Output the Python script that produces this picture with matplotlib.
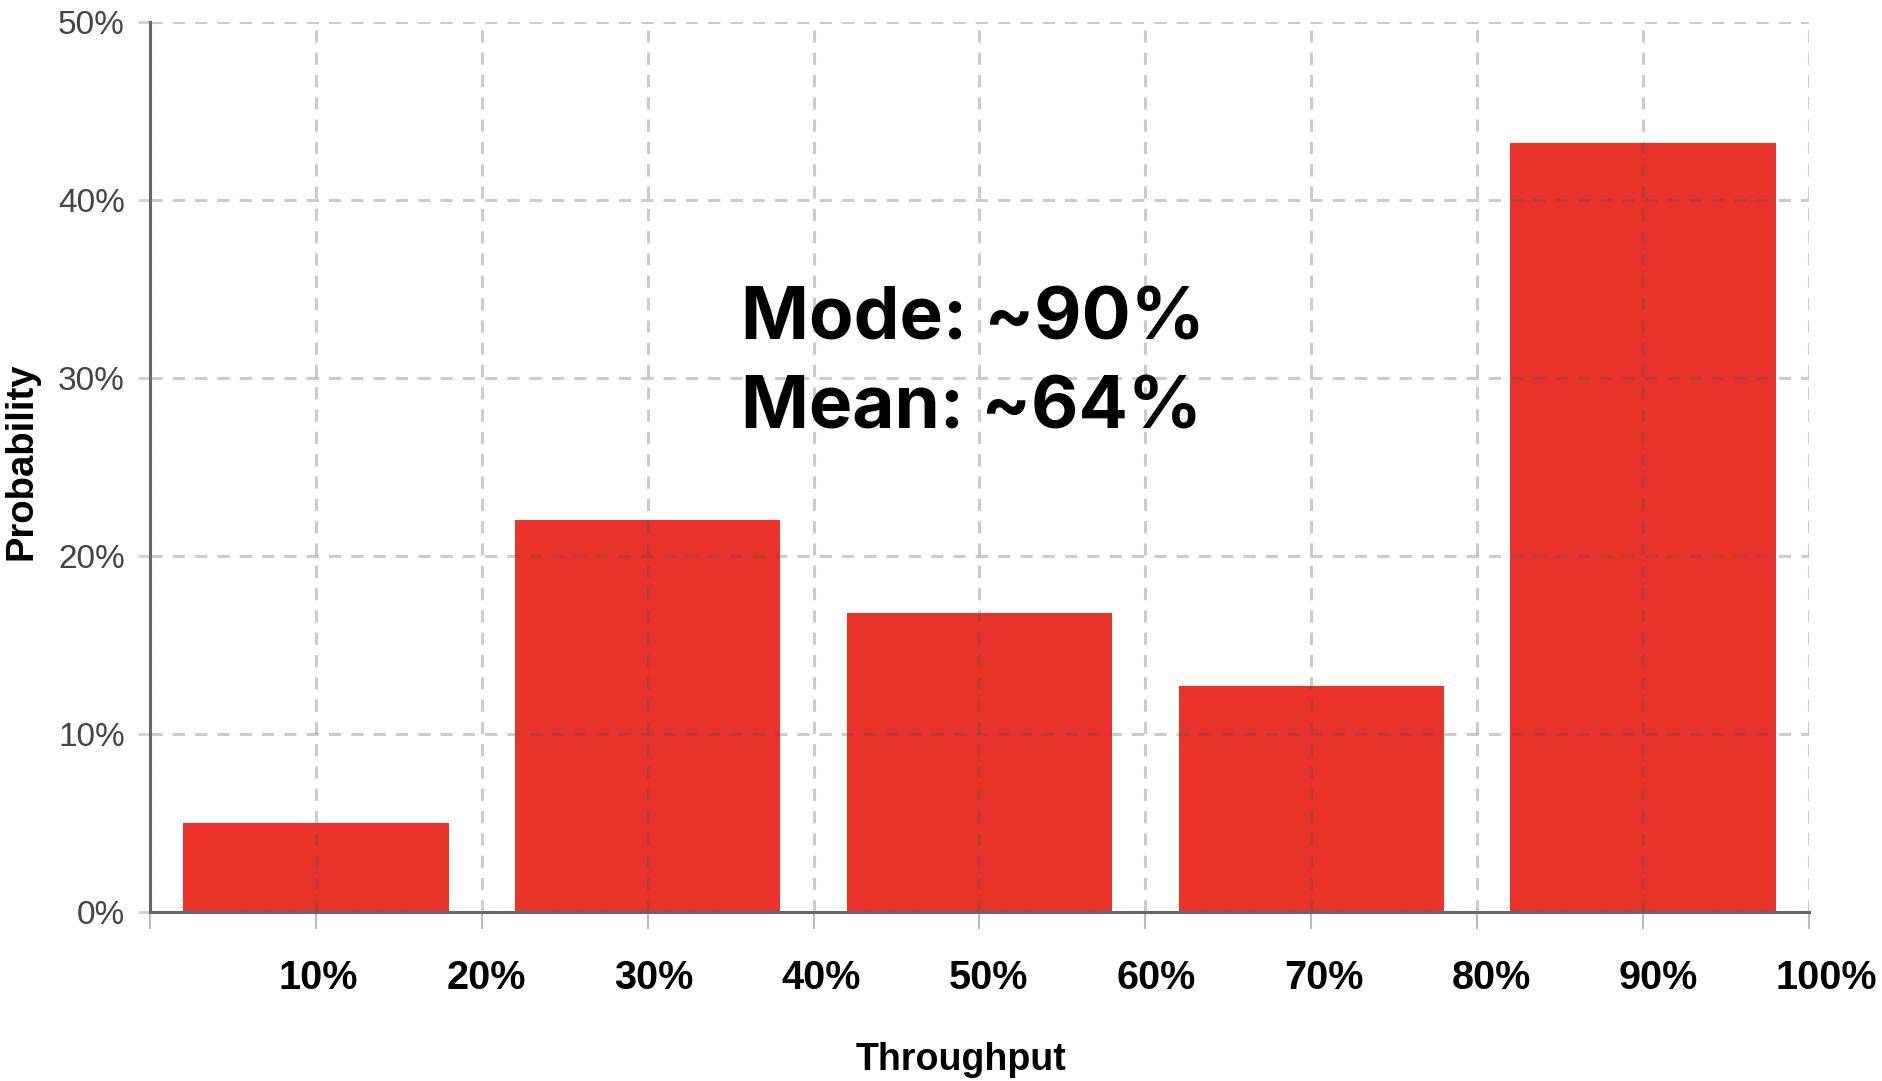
import matplotlib
matplotlib.use('Agg')
import matplotlib.pyplot as plt
import matplotlib.transforms as mtransforms

# Throughput bins (bin centre, %) and probability of each bin (%)
throughput = [10, 30, 50, 70, 90]
probability = [5.0, 22.0, 16.8, 12.7, 43.2]

x_ticks = [0, 10, 20, 30, 40, 50, 60, 70, 80, 90, 100]
x_tick_labels = ['', '10%', '20%', '30%', '40%', '50%', '60%', '70%', '80%', '90%', '100%']
y_ticks = [0, 10, 20, 30, 40, 50]
y_tick_labels = ['0%', '10%', '20%', '30%', '40%', '50%']

mode_text = 'Mode: ~90%'
mean_text = 'Mean: ~64%'

fig = plt.figure(figsize=(18.82, 10.81), dpi=100)
ax = fig.add_axes([0.0797, 0.1563, 0.8815, 0.8233])

ax.bar(throughput, probability, width=16, color='#E8322A', zorder=1)

ax.set_xlim(0, 100)
ax.set_ylim(0, 50)
ax.set_xticks(x_ticks)
ax.set_xticklabels(x_tick_labels, family='Liberation Sans', fontweight='bold', fontsize=28.5, color='black')
ax.set_yticks(y_ticks)
ax.set_yticklabels(y_tick_labels, family='Liberation Sans', fontsize=24, color='#444444')

# dashed grid sits over the bars
ax.grid(True, color='#555555', alpha=0.3, linestyle=(0, (4, 3.3)), linewidth=2.2)

for side in ['top', 'right']:
    ax.spines[side].set_visible(False)
for side in ['left', 'bottom']:
    ax.spines[side].set_color('#666666')
    ax.spines[side].set_linewidth(2.2)
    ax.spines[side].set_zorder(3)

ax.tick_params(axis='x', length=12, width=1.5, color='#bbbbbb', pad=22)
ax.tick_params(axis='y', length=9, width=2, color='#d0d0d0', pad=9)

# x labels drift slightly right of their ticks, a little more towards 100%
for k, lbl in enumerate(ax.get_xticklabels()):
    dx = (1.0 + 1.6 * k) / 100
    lbl.set_transform(lbl.get_transform() + mtransforms.ScaledTranslation(dx, 0, fig.dpi_scale_trans))

ax.set_xlabel('Throughput', fontsize=27, fontweight='bold', family='Liberation Sans', va='center')
ax.xaxis.set_label_coords(0.489, -0.166)
ax.set_ylabel('Probability', fontsize=27.5, fontweight='bold', family='Liberation Sans', va='center')
ax.yaxis.set_label_coords(-0.0772, 0.506)

ax.text(35.6, 32.15, mode_text, fontsize=52.5, fontweight='bold', family=['Inter', 'DejaVu Sans'],
        ha='left', va='baseline', zorder=5)
ax.text(35.6, 27.15, mean_text, fontsize=52.5, fontweight='bold', family=['Inter', 'DejaVu Sans'],
        ha='left', va='baseline', zorder=5)

fig.savefig('out.png', dpi=100)
